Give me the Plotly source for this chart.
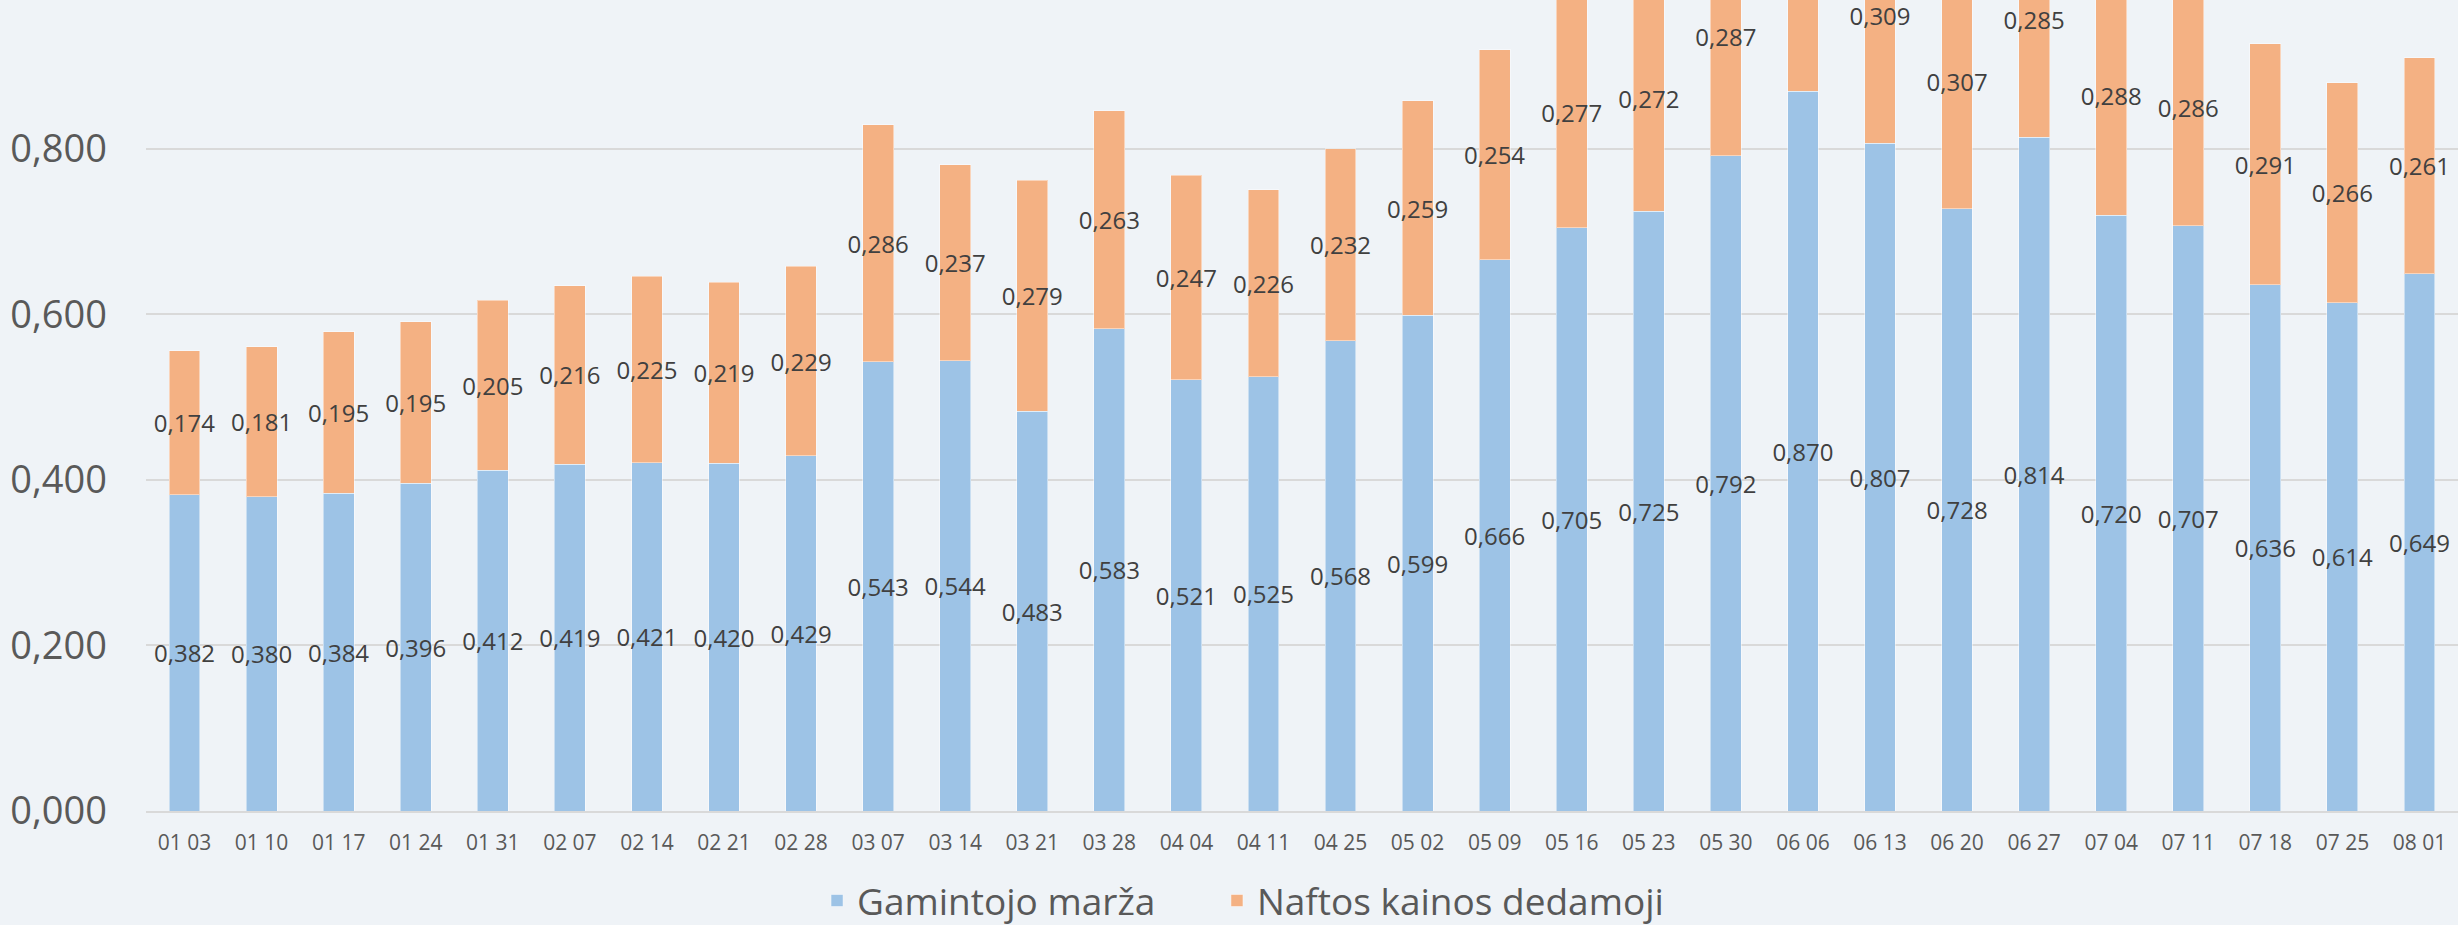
import plotly.graph_objects as go

dates = ["01 03", "01 10", "01 17", "01 24", "01 31", "02 07", "02 14", "02 21", "02 28",
         "03 07", "03 14", "03 21", "03 28", "04 04", "04 11", "04 25", "05 02", "05 09",
         "05 16", "05 23", "05 30", "06 06", "06 13", "06 20", "06 27", "07 04", "07 11",
         "07 18", "07 25", "08 01"]

gamintojo_marza = [0.382, 0.380, 0.384, 0.396, 0.412, 0.419, 0.421, 0.420, 0.429,
                   0.543, 0.544, 0.483, 0.583, 0.521, 0.525, 0.568, 0.599, 0.666,
                   0.705, 0.725, 0.792, 0.870, 0.807, 0.728, 0.814, 0.720, 0.707,
                   0.636, 0.614, 0.649]

naftos_dedamoji = [0.174, 0.181, 0.195, 0.195, 0.205, 0.216, 0.225, 0.219, 0.229,
                   0.286, 0.237, 0.279, 0.263, 0.247, 0.226, 0.232, 0.259, 0.254,
                   0.277, 0.272, 0.287, 0.300, 0.309, 0.307, 0.285, 0.288, 0.286,
                   0.291, 0.266, 0.261]

y_ticks = [0.0, 0.2, 0.4, 0.6, 0.8]

BLUE = "#9DC3E6"
ORANGE = "#F4B183"
BG = "#EFF3F7"
FONT = "Open Sans"

fig = go.Figure()
for name, vals, col, lg in [("Gamintojo marža", gamintojo_marza, BLUE, "legend"),
                            ("Naftos kainos dedamoji", naftos_dedamoji, ORANGE, "legend2")]:
    fig.add_trace(go.Bar(
        x=dates, y=vals, name=name, legend=lg,
        marker=dict(color=col, line=dict(width=1, color="rgba(255,255,255,0.45)")),
        width=0.4,
        texttemplate="%{y:.3f}",
        textposition="inside",
        insidetextanchor="middle",
        textangle=0,
        constraintext="none",
        cliponaxis=True,
        textfont=dict(family=FONT, size=24, color="#404040"),
    ))

legend_style = dict(
    orientation="h", xref="container", yref="container",
    xanchor="left", y=0.026, yanchor="middle",
    font=dict(family=FONT, size=37, color="#595959"),
    bgcolor="rgba(0,0,0,0)",
)

fig.update_layout(
    barmode="stack",
    width=2458, height=925,
    margin=dict(l=146, r=0, t=0, b=114),
    paper_bgcolor=BG, plot_bgcolor=BG,
    separators=", ",
    font=dict(family=FONT, color="#595959"),
    showlegend=True,
    legend=dict(x=0.3324, **legend_style),
    legend2=dict(x=0.4951, **legend_style),
    xaxis=dict(
        type="category", range=[-0.5, 29.5],
        showgrid=False, showline=True, linecolor="#D9D9D9", linewidth=2,
        tickfont=dict(family=FONT, size=21, color="#595959"),
        ticks="", ticklabelstandoff=12,
    ),
    yaxis=dict(
        range=[0, 0.98], tickvals=y_ticks, tickformat=".3f",
        showgrid=True, gridcolor="#D9D9D9", gridwidth=2,
        zeroline=False, showline=False,
        tickfont=dict(family=FONT, size=38, color="#595959"),
        ticks="", ticklabelstandoff=38,
    ),
)

fig.write_html("out.html", config={"displayModeBar": False},
               post_script="document.body.style.margin='0';document.body.style.overflow='hidden';")
